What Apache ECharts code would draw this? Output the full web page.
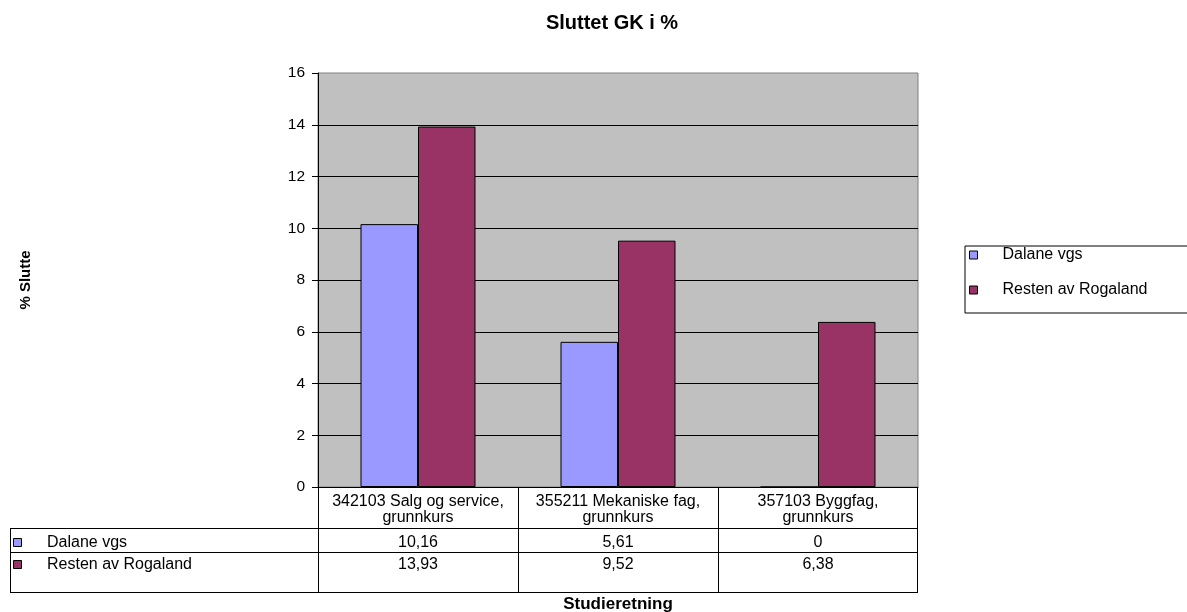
<!DOCTYPE html>
<html>
<head>
<meta charset="utf-8">
<title>Sluttet GK i %</title>
<script src="https://cdn.jsdelivr.net/npm/echarts@6/dist/echarts.min.js"></script>
<style>
  html, body { margin: 0; padding: 0; background: #fff; }
  #chart { width: 1187px; height: 612px; }
</style>
</head>
<body>
<div id="chart"></div>
<script>
// Study programmes (x categories) and share of students who quit, in %
const categories = [
  '342103 Salg og service,\ngrunnkurs',
  '355211 Mekaniske fag,\ngrunnkurs',
  '357103 Byggfag,\ngrunnkurs'
];
const seriesNames = ['Dalane vgs', 'Resten av Rogaland'];
const dalaneVgs = [10.16, 5.61, 0];
const restenAvRogaland = [13.93, 9.52, 6.38];
const seriesColors = ['#9999FF', '#993366'];
const yMin = 0, yMax = 16, yStep = 2;

const FONT = "'Liberation Sans', Arial, sans-serif";
const GRID = { left: 318, top: 73, width: 600, height: 414 };

// Norwegian number formatting (decimal comma)
const fmt = v => String(v).replace('.', ',');

const chart = echarts.init(document.getElementById('chart'), null, { renderer: 'canvas' });

const seriesData = [dalaneVgs, restenAvRogaland];

const option = {
  animation: false,
  backgroundColor: '#fff',
  textStyle: { fontFamily: FONT, color: '#000' },
  title: {
    text: 'Sluttet GK i %',
    left: 607,
    textAlign: 'center',
    top: 8,
    textStyle: { fontFamily: FONT, fontSize: 20, fontWeight: 'bold', color: '#000' }
  },
  legend: {
    orient: 'vertical',
    left: 965,
    top: 246,
    padding: [1, 60, 15, 4],
    itemGap: 19,
    itemWidth: 8,
    itemHeight: 8,
    icon: 'rect',
    borderColor: '#000',
    borderWidth: 1,
    itemStyle: { borderColor: '#000', borderWidth: 1 },
    textStyle: { fontFamily: FONT, fontSize: 16, color: '#000', lineHeight: 16, padding: [0, 0, 0, 20] },
    data: seriesNames
  },
  grid: {
    left: GRID.left,
    top: GRID.top,
    width: GRID.width,
    height: GRID.height,
    outerBoundsMode: 'none',
    containLabel: false,
    show: true,
    backgroundColor: '#C0C0C0',
    borderColor: '#808080',
    borderWidth: 1
  },
  xAxis: {
    type: 'category',
    data: categories,
    name: 'Studieretning',
    nameLocation: 'middle',
    nameGap: 109,
    nameTextStyle: { fontFamily: FONT, fontSize: 17, fontWeight: 'bold', color: '#000' },
    axisLine: { show: true, lineStyle: { color: '#000', width: 1 } },
    axisTick: { show: false },
    axisLabel: {
      interval: 0,
      margin: 7,
      fontFamily: FONT,
      fontSize: 16,
      lineHeight: 16,
      color: '#000',
      align: 'center'
    },
    splitLine: { show: false }
  },
  yAxis: {
    type: 'value',
    min: yMin,
    max: yMax,
    interval: yStep,
    name: '% Slutte',
    nameLocation: 'middle',
    nameGap: 285,
    nameRotate: 90,
    nameTextStyle: { fontFamily: FONT, fontSize: 15, fontWeight: 'bold', color: '#000' },
    axisLine: { show: true, lineStyle: { color: '#000', width: 1 } },
    axisTick: { show: true, inside: false, length: 6, lineStyle: { color: '#000' } },
    axisLabel: { margin: 13, fontFamily: FONT, fontSize: 15.5, color: '#000' },
    splitLine: { show: true, showMaxLine: false, lineStyle: { color: '#000', width: 1 } }
  },
  series: seriesNames.map((name, i) => ({
    name,
    type: 'bar',
    data: seriesData[i],
    barGap: '0%',
    barCategoryGap: '42.5%',
    itemStyle: { color: seriesColors[i], borderColor: '#000', borderWidth: 1 }
  }))
};

chart.setOption(option);

// Data table beneath the plot: header cells come from the category axis labels,
// rows list each series' values under its category column.
function buildTable() {
  const n = categories.length;
  const colW = GRID.width / n;
  const plotBottom = GRID.top + GRID.height;
  const tableLeft = 10;
  const tableRight = GRID.left + GRID.width;
  const headerBottom = 528;
  const rowBottoms = [552, 592];
  const rowTextY = [543, 565];
  const crisp = v => Math.round(v) + 0.5;
  const els = [];
  const line = (x1, y1, x2, y2) => ({
    type: 'line',
    shape: { x1, y1, x2, y2 },
    style: { stroke: '#000', lineWidth: 1 },
    z: 10
  });

  // vertical column dividers under the plot
  for (let i = 0; i <= n; i++) {
    const x = crisp(GRID.left + i * colW) - (i === n ? 1 : 0);
    els.push(line(x, plotBottom, x, rowBottoms[rowBottoms.length - 1]));
  }
  // left border of the row-label column
  els.push(line(crisp(tableLeft), headerBottom, crisp(tableLeft), rowBottoms[rowBottoms.length - 1]));
  // horizontal rules
  [headerBottom].concat(rowBottoms).forEach(y => {
    els.push(line(tableLeft, crisp(y), tableRight, crisp(y)));
  });

  seriesNames.forEach((name, r) => {
    const cy = rowTextY[r];
    els.push({
      type: 'rect',
      shape: { x: 13.5, y: cy - 4.5, width: 8, height: 8 },
      style: { fill: seriesColors[r], stroke: '#000', lineWidth: 1 },
      z: 10
    });
    els.push({
      type: 'text',
      x: 47, y: cy,
      style: { text: name, font: '16px ' + FONT, fill: '#000', textAlign: 'left', textVerticalAlign: 'middle' },
      z: 10
    });
    seriesData[r].forEach((v, c) => {
      els.push({
        type: 'text',
        x: GRID.left + (c + 0.5) * colW,
        y: cy,
        style: { text: fmt(v), font: '16px ' + FONT, fill: '#000', textAlign: 'center', textVerticalAlign: 'middle' },
        z: 10
      });
    });
  });

  chart.setOption({ graphic: { elements: els } });
}
buildTable();
</script>
</body>
</html>
